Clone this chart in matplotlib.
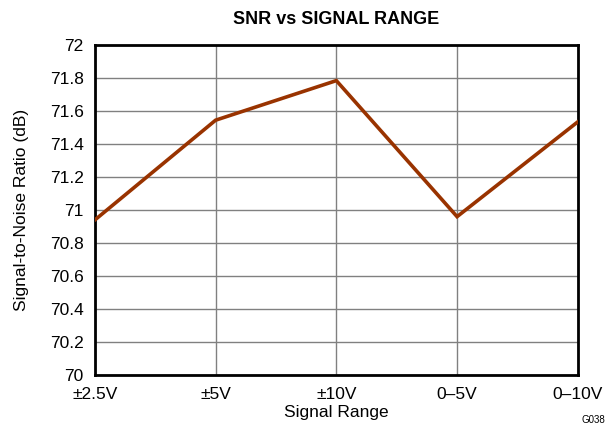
import matplotlib
matplotlib.use("Agg")
import matplotlib.pyplot as plt

ranges = ["±2.5V", "±5V", "±10V", "0–5V", "0–10V"]
snr_db = [70.94, 71.545, 71.785, 70.96, 71.535]
y_ticks = [70, 70.2, 70.4, 70.6, 70.8, 71, 71.2, 71.4, 71.6, 71.8, 72]
y_labels = ["70", "70.2", "70.4", "70.6", "70.8", "71", "71.2", "71.4", "71.6", "71.8", "72"]

plt.rcParams["font.family"] = ["Liberation Sans", "DejaVu Sans"]

fig = plt.figure(figsize=(6.16, 4.30), dpi=100)
ax = fig.add_axes([0.154, 0.128, 0.784, 0.767])

x = list(range(len(ranges)))
ax.plot(x, snr_db, color="#993300", linewidth=2.6, solid_joinstyle="miter", zorder=3)

ax.set_xlim(0, len(ranges) - 1)
ax.set_ylim(70, 72)
ax.set_xticks(x)
ax.set_xticklabels(ranges, fontsize=12.5)
ax.set_yticks(y_ticks)
ax.set_yticklabels(y_labels, fontsize=12.5)
ax.tick_params(axis="x", length=0, pad=9)
ax.tick_params(axis="y", length=0, pad=8)

ax.grid(True, color="#808080", linewidth=1.0)
for s in ax.spines.values():
    s.set_linewidth(2.0)
    s.set_color("black")

ax.set_xlabel("Signal Range", fontsize=12.5, labelpad=2)
ax.set_ylabel("Signal-to-Noise Ratio (dB)", fontsize=12.5, labelpad=15)
ax.set_title("SNR vs SIGNAL RANGE", fontsize=13, fontweight="bold", pad=15)

fig.text(0.982, 0.012, "G038", fontsize=7, ha="right", va="bottom")

fig.savefig("out.png", dpi=100)
